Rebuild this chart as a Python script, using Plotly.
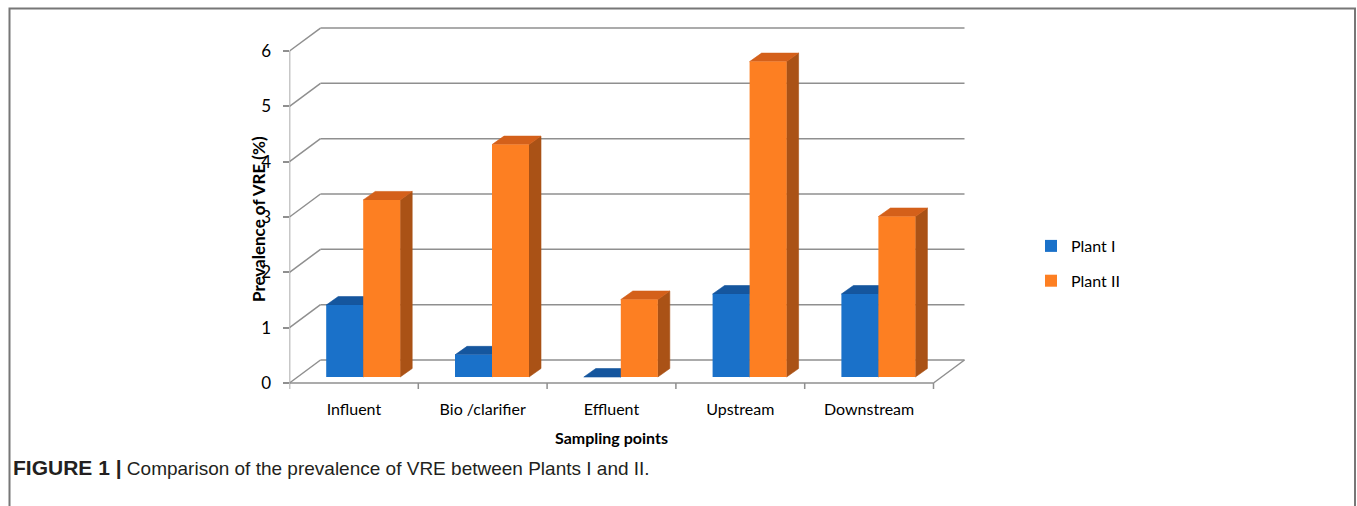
import plotly.graph_objects as go

# ---- data ----
categories = ["Influent", "Bio /clarifier", "Effluent", "Upstream", "Downstream"]
plant_1 = [1.3, 0.4, 0.0, 1.5, 1.5]
plant_2 = [3.2, 4.2, 1.4, 5.7, 2.9]
y_ticks = [0, 1, 2, 3, 4, 5, 6]
series_names = ["Plant I", "Plant II"]

# ---- page / projection geometry (pixels) ----
W, H = 1357, 506
CAT_PX = 128.8          # width of one category on the front plane
VAL_PX = 55.33          # height of one value unit
X0_PX = 289.5           # left end of the front floor edge
Y0_PX = 383.0           # front-plane zero line
X_RANGE = [-0.5, 4.8]
Y_RANGE = [-0.3, 6.5]

WALL_DX = 31 / CAT_PX   # depth of the floor / back wall
WALL_DY = 23 / VAL_PX
BAR_W = 37 / CAT_PX     # bar width
BAR_SHIFT = 9.3 / CAT_PX
BAR_BASE = 6 / VAL_PX   # bars stand a little behind the front edge
TOP_DX = 12 / CAT_PX    # bar depth
TOP_DY = 8.5 / VAL_PX
TICK_LEN = 6 / VAL_PX

dom_x = [X0_PX / W, (X0_PX + (X_RANGE[1] - X_RANGE[0]) * CAT_PX) / W]
dom_y = [(H - (Y0_PX - Y_RANGE[0] * VAL_PX)) / H,
         (H - (Y0_PX - Y_RANGE[1] * VAL_PX)) / H]

GRID = "#8f8f8f"
COLORS = {
    "Plant I": {"front": "#1A71C9", "top": "#15569E", "side": "#114680"},
    "Plant II": {"front": "#FD7F22", "top": "#D4601A", "side": "#AA5216"},
}
FONT = "Lato"

fig = go.Figure()


def add_lines(segments, color=GRID, width=1.5):
    xs, ys = [], []
    for (xa, ya), (xb, yb) in segments:
        xs += [xa, xb, None]
        ys += [ya, yb, None]
    fig.add_trace(go.Scatter(x=xs, y=ys, mode="lines", showlegend=False,
                             hoverinfo="skip",
                             line=dict(color=color, width=width)))


x_left = X_RANGE[0]
x_right = x_left + len(categories)
segs = []
# back wall gridlines and the diagonals joining them to the value axis
for k in y_ticks:
    segs.append(((x_left + WALL_DX, k + WALL_DY), (x_right + WALL_DX, k + WALL_DY)))
    segs.append(((x_left, k), (x_left + WALL_DX, k + WALL_DY)))
# value axis, floor front edge and floor side edge
segs.append(((x_left, 0), (x_left, y_ticks[-1])))
segs.append(((x_left, 0), (x_right, 0)))
segs.append(((x_right, 0), (x_right + WALL_DX, WALL_DY)))
# category boundary ticks
for i in range(len(categories) + 1):
    b = x_left + i
    segs.append(((b, 0), (b, -TICK_LEN)))
add_lines(segs)


def bar_geometry(values, side):
    """Front-face left/right x for each category (side -1 = left bar)."""
    out = []
    for i, v in enumerate(values):
        if side < 0:
            xl = i + BAR_SHIFT - BAR_W
        else:
            xl = i + BAR_SHIFT
        out.append((xl, xl + BAR_W, BAR_BASE + v))
    return out


def add_faces(values, side, name):
    geo = bar_geometry(values, side)
    sx, sy, tx, ty = [], [], [], []
    for xl, xr, vt in geo:
        sx += [xr, xr + TOP_DX, xr + TOP_DX, xr, xr, None]
        sy += [BAR_BASE, BAR_BASE + TOP_DY, vt + TOP_DY, vt, BAR_BASE, None]
        tx += [xl, xr, xr + TOP_DX, xl + TOP_DX, xl, None]
        ty += [vt, vt, vt + TOP_DY, vt + TOP_DY, vt, None]
    for xs, ys, c in ((sx, sy, COLORS[name]["side"]), (tx, ty, COLORS[name]["top"])):
        fig.add_trace(go.Scatter(x=xs, y=ys, mode="lines", fill="toself",
                                 fillcolor=c, line=dict(color=c, width=0.6),
                                 showlegend=False, hoverinfo="skip"))


add_faces(plant_1, -1, "Plant I")
add_faces(plant_2, +1, "Plant II")

# front faces of the bars on an overlaid subplot so they sit above the faces
for values, side, name in ((plant_1, -1, "Plant I"), (plant_2, +1, "Plant II")):
    centers = [i + BAR_SHIFT + side * BAR_W / 2 for i in range(len(values))]
    fig.add_trace(go.Bar(x=centers, y=values, base=BAR_BASE, width=BAR_W,
                         name=name, legendgroup=name,
                         marker=dict(color=COLORS[name]["front"], line=dict(width=0)),
                         xaxis="x2", yaxis="y2", hoverinfo="skip"))

fig.update_layout(
    width=W, height=H,
    margin=dict(l=0, r=0, t=0, b=0),
    paper_bgcolor="white", plot_bgcolor="rgba(0,0,0,0)",
    barmode="overlay",
    showlegend=True,
    font=dict(family=FONT, size=16, color="#000000"),
    xaxis=dict(domain=dom_x, range=X_RANGE, showgrid=False, zeroline=False,
               showline=False, tickmode="array",
               tickvals=list(range(len(categories))), ticktext=categories,
               ticks="", ticklabelstandoff=-2,
               tickfont=dict(family=FONT, size=16, color="#000000")),
    yaxis=dict(domain=dom_y, range=Y_RANGE, showgrid=False, zeroline=False,
               showline=False, tickmode="array", tickvals=y_ticks,
               ticktext=[str(t) for t in y_ticks],
               ticks="outside", ticklen=6, tickwidth=1.5, tickcolor=GRID,
               ticklabelstandoff=8,
               tickfont=dict(family=FONT, size=17, color="#000000")),
    xaxis2=dict(overlaying="x", range=X_RANGE, visible=False),
    yaxis2=dict(overlaying="y", range=Y_RANGE, visible=False),
    legend=dict(x=1031 / W, y=(H - 229) / H, xanchor="left", yanchor="top",
                bgcolor="rgba(0,0,0,0)", tracegroupgap=11,
                font=dict(family=FONT, size=16, color="#000000")),
    annotations=[
        dict(text="<b>Prevalence of VRE (%)</b>", xref="paper", yref="paper",
             x=258 / W, y=(H - 219) / H, xanchor="center", yanchor="middle",
             textangle=-90, showarrow=False,
             font=dict(family=FONT, size=17, color="#000000")),
        dict(text="<b>Sampling points</b>", xref="paper", yref="paper",
             x=611.5 / W, y=(H - 437) / H, xanchor="center", yanchor="middle",
             showarrow=False,
             font=dict(family=FONT, size=16, color="#000000")),
        dict(text="<span style='font-size:21px'><b>FIGURE 1 |</b></span> "
                  "Comparison of the prevalence of VRE between Plants I and II.",
             xref="paper", yref="paper", x=11 / W, y=(H - 467) / H,
             xanchor="left", yanchor="middle", showarrow=False,
             font=dict(family="Liberation Sans", size=19, color="#231F20")),
    ],
    shapes=[
        dict(type="rect", xref="paper", yref="paper",
             x0=9.5 / W, x1=1355 / W, y0=-0.1, y1=(H - 8.5) / H,
             line=dict(color="#777777", width=2), fillcolor="rgba(0,0,0,0)"),
    ],
)

fig.write_html("out.html")
